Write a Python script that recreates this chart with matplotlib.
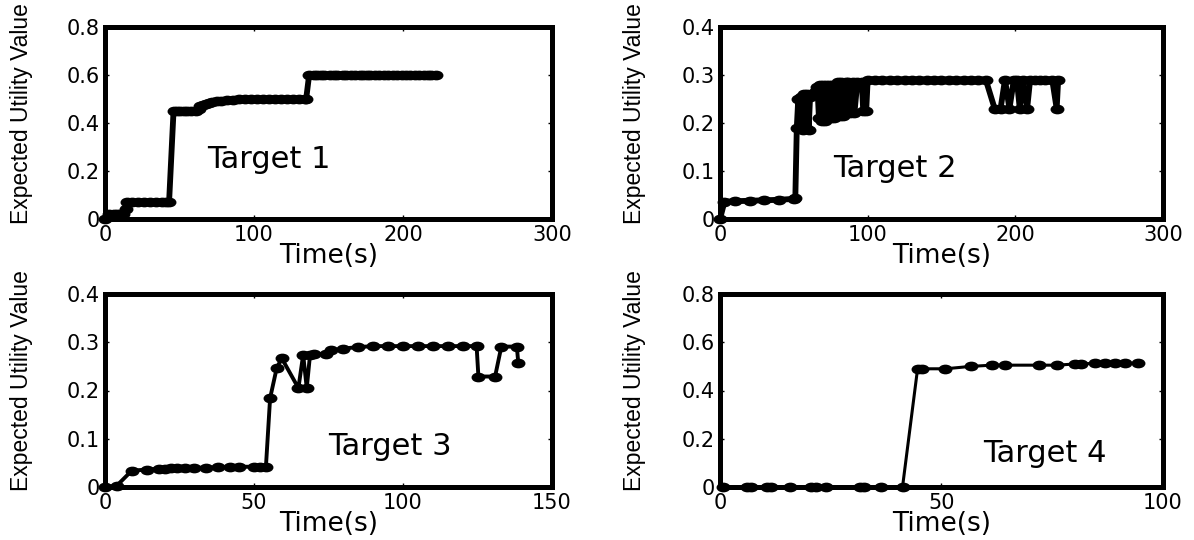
import matplotlib
matplotlib.use("Agg")
import matplotlib.pyplot as plt
from matplotlib.markers import MarkerStyle
from matplotlib.transforms import Affine2D

# ---------------- data ----------------
t1_time = [0, 3, 6, 8, 10, 12, 14, 15, 18, 22, 26, 30, 34, 38, 41, 43, 46, 48, 50, 53, 55, 58,
           61, 63, 64, 66, 68, 70, 72, 75, 78, 82, 86, 90, 94, 98, 102, 106, 110, 114, 118,
           122, 126, 130, 134, 135, 137, 140, 142, 145, 147, 151, 154, 156, 160, 162, 165,
           168, 171, 173, 176, 178, 181, 184, 187, 190, 193, 196, 199, 202, 205, 208, 211,
           214, 217, 219, 222]
t1_value = [0.0, 0.02, 0.02, 0.02, 0.02, 0.02, 0.04, 0.07, 0.07, 0.07, 0.07, 0.07, 0.07, 0.07,
            0.07, 0.07, 0.45, 0.45, 0.45, 0.45, 0.45, 0.45, 0.45, 0.46, 0.47, 0.475, 0.48,
            0.483, 0.487, 0.49, 0.493, 0.495, 0.497, 0.5, 0.5, 0.5, 0.5, 0.5, 0.5, 0.5, 0.5,
            0.5, 0.5, 0.5, 0.5, 0.5, 0.6, 0.6, 0.6, 0.6, 0.6, 0.6, 0.6, 0.6, 0.6, 0.6, 0.6,
            0.6, 0.6, 0.6, 0.6, 0.6, 0.6, 0.6, 0.6, 0.6, 0.6, 0.6, 0.6, 0.6, 0.6, 0.6, 0.6,
            0.6, 0.6, 0.6, 0.6]

t2_time = [0, 3, 10, 20, 30, 40, 50, 51, 52, 53, 54, 55, 56, 57, 58, 59, 60, 61, 62, 64, 66,
           67, 68, 69, 70, 71, 72, 73, 74, 75, 76, 77, 78, 79, 80, 81, 82, 83, 85, 86, 87,
           88, 90, 91, 93, 96, 97, 99, 100, 105, 110, 115, 120, 125, 130, 135, 140, 145,
           150, 155, 160, 165, 170, 175, 180, 186, 190, 193, 196, 199, 201, 203, 205, 208,
           210, 213, 217, 220, 225, 228, 229]
t2_value = [0.0, 0.036, 0.037, 0.038, 0.039, 0.04, 0.042, 0.043, 0.19, 0.25, 0.19, 0.255,
            0.185, 0.26, 0.19, 0.26, 0.185, 0.255, 0.26, 0.265, 0.275, 0.21, 0.28, 0.205,
            0.28, 0.205, 0.28, 0.21, 0.28, 0.21, 0.28, 0.21, 0.28, 0.215, 0.285, 0.215, 0.285,
            0.215, 0.285, 0.22, 0.285, 0.22, 0.285, 0.22, 0.285, 0.285, 0.225, 0.225, 0.29,
            0.29, 0.29, 0.29, 0.29, 0.29, 0.29, 0.29, 0.29, 0.29, 0.29, 0.29, 0.29, 0.29,
            0.29, 0.29, 0.29, 0.23, 0.23, 0.29, 0.23, 0.29, 0.29, 0.23, 0.29, 0.23, 0.29,
            0.29, 0.29, 0.29, 0.29, 0.23, 0.29]

t3_time = [0, 4, 9, 14, 18, 20, 22, 24, 27, 30, 34, 38, 42, 45, 50, 52, 54, 55.4, 57.6, 59.3,
           64.9, 66.5, 67.7, 68.8, 70, 74, 76, 80, 85, 90, 95, 100, 105, 110, 115, 120, 124.7,
           125.3, 130.9, 133, 138.2, 138.7]
t3_value = [0.0, 0.003, 0.034, 0.036, 0.038, 0.038, 0.039, 0.039, 0.04, 0.04, 0.04, 0.041,
            0.041, 0.042, 0.042, 0.042, 0.042, 0.184, 0.246, 0.267, 0.205, 0.274, 0.205, 0.274,
            0.275, 0.276, 0.283, 0.287, 0.29, 0.292, 0.292, 0.292, 0.292, 0.292, 0.292, 0.292,
            0.292, 0.229, 0.229, 0.291, 0.291, 0.256]

t4_time = [0.75, 6.0, 7.1, 10.5, 11.6, 15.7, 20.6, 21.7, 24.0, 31.5, 32.6, 36.3, 41.2, 44.6,
           45.7, 50.9, 56.6, 61.4, 64.4, 71.9, 76.0, 80.2, 81.6, 84.7, 86.9, 89.1, 91.4, 94.4]
t4_value = [0.0, 0.0, 0.0, 0.0, 0.0, 0.0, 0.0, 0.0, 0.0, 0.0, 0.0, 0.0, 0.0, 0.49, 0.49, 0.49,
            0.5, 0.505, 0.505, 0.505, 0.505, 0.51, 0.51, 0.513, 0.513, 0.513, 0.513, 0.513]

labels = ["Target 1", "Target 2", "Target 3", "Target 4"]
xlims = [300, 300, 150, 100]
ylims = [0.8, 0.4, 0.4, 0.8]
xticks = [[0, 100, 200, 300], [0, 100, 200, 300], [0, 50, 100, 150], [0, 50, 100]]
yticks = [[0, 0.2, 0.4, 0.6, 0.8], [0, 0.1, 0.2, 0.3, 0.4], [0, 0.1, 0.2, 0.3, 0.4],
          [0, 0.2, 0.4, 0.6, 0.8]]
ytick_labels = [["0", "0.2", "0.4", "0.6", "0.8"], ["0", "0.1", "0.2", "0.3", "0.4"],
                ["0", "0.1", "0.2", "0.3", "0.4"], ["0", "0.2", "0.4", "0.6", "0.8"]]
series = [(t1_time, t1_value), (t2_time, t2_value), (t3_time, t3_value), (t4_time, t4_value)]

# ---------------- layout ----------------
W, H = 1194, 540
fig = plt.figure(figsize=(W / 100, H / 100), dpi=100)

boxes = [(105, 27, 552, 219), (720, 27, 1163, 219), (105, 294, 552, 487), (720, 294, 1163, 487)]
text_pos = [(0.228, 0.266), (0.255, 0.22), (0.499, 0.166), (0.594, 0.131)]
lws = [4.2, 4.2, 2.8, 2.2]
oval = MarkerStyle("o", transform=Affine2D().scale(1.5, 1.0))

for i in range(4):
    x0, y0, x1, y1 = boxes[i]
    ax = fig.add_axes([x0 / W, 1 - y1 / H, (x1 - x0) / W, (y1 - y0) / H])
    tx, ty = series[i]
    ax.plot(tx, ty, color="black", lw=lws[i], marker=oval, ms=6,
            markerfacecolor="black", markeredgecolor="black", clip_on=False)
    ax.set_xlim(0, xlims[i])
    ax.set_ylim(0, ylims[i])
    ax.set_xticks(xticks[i])
    ax.set_xticklabels([str(v) for v in xticks[i]])
    ax.set_yticks(yticks[i])
    ax.set_yticklabels(ytick_labels[i])
    for s in ax.spines.values():
        s.set_linewidth(3.6)
    ax.tick_params(direction="in", length=3, width=1, top=True, right=True, labelsize=15)
    ax.tick_params(axis="x", pad=4)
    ax.tick_params(axis="y", pad=4)
    for lab in ax.get_xticklabels() + ax.get_yticklabels():
        lab.set_family("DejaVu Sans")
    ax.set_xlabel("Time(s)", family="DejaVu Sans", fontsize=19)
    ax.xaxis.set_label_coords(0.5, -0.125)
    ax.set_ylabel("Expected Utility Value", family="Liberation Sans", fontsize=16.5)
    ax.yaxis.set_label_coords(-0.16 if i in (0, 2) else -0.167, 0.55)
    ax.text(text_pos[i][0], text_pos[i][1], labels[i], transform=ax.transAxes,
            family="DejaVu Sans", fontsize=22, ha="left", va="baseline")

fig.savefig("out.png", dpi=100)
